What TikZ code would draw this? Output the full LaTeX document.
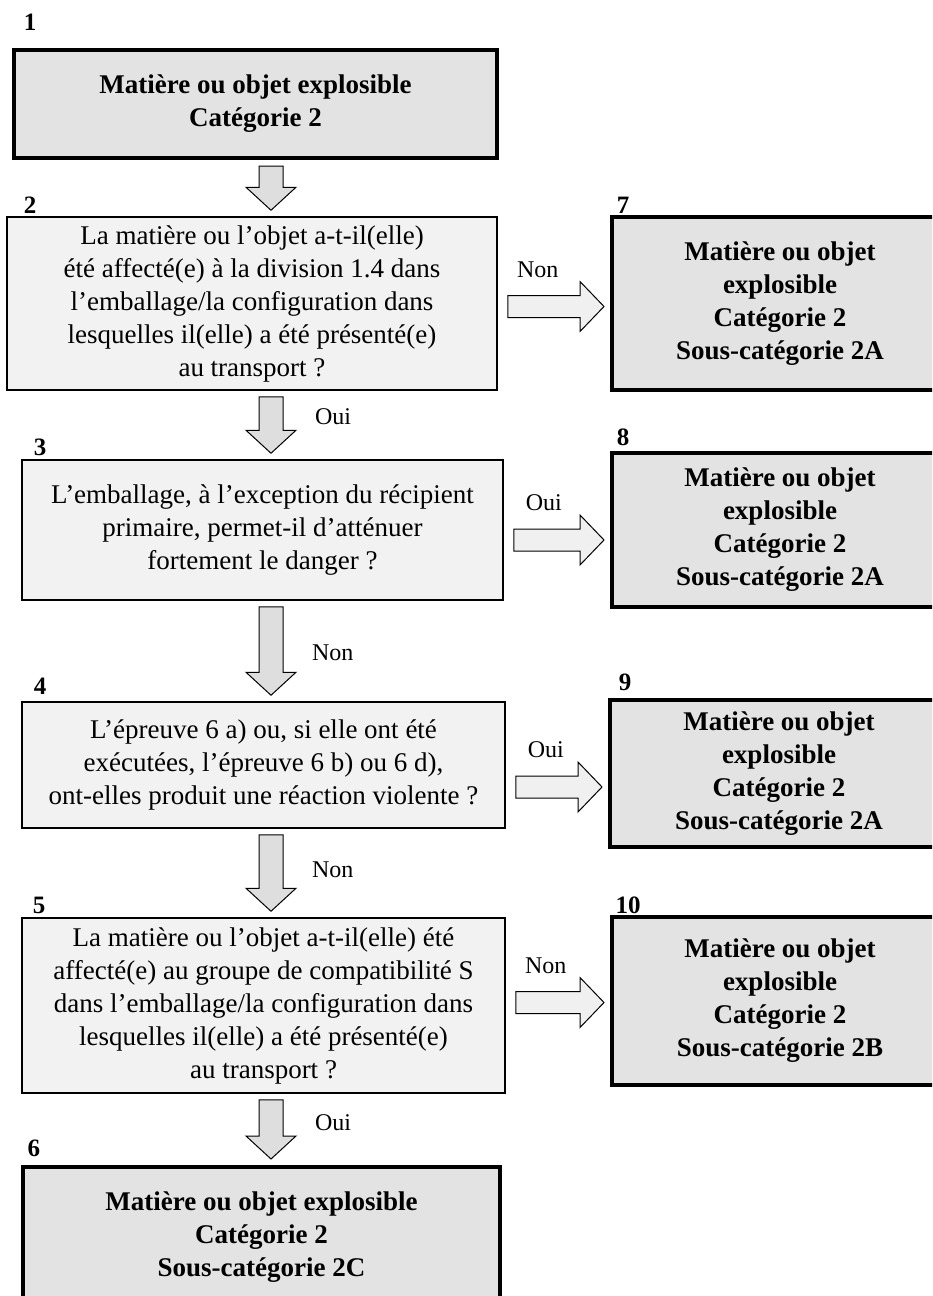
\documentclass[tikz,border=0pt]{standalone}
\usepackage{fontspec}
\setmainfont{Liberation Serif}
\usetikzlibrary{calc}

% block arrow going down between two boxes, on the axis ax
\newcommand{\downblock}[2]{%
  \path[downarr] ($(#1.south -| ax)+(-12,6)$) -- ($(#1.south -| ax)+(12,6)$)
    -- ($(#2.north -| ax)+(12,-29)$) -- ($(#2.north -| ax)+(25,-29)$)
    -- ($(#2.north -| ax)+(0,-6)$) -- ($(#2.north -| ax)+(-25,-29)$)
    -- ($(#2.north -| ax)+(-12,-29)$) -- cycle;
  \coordinate (#1-#2) at ($(#1.south -| ax)!0.5!(#2.north -| ax)$);}

% block arrow going right, #3 = vertical shift from the middle of #1
\newcommand{\rightblock}[3]{%
  \path[rightarr] ($(#1.east)+(10,#3-11)$) -- ($(#2.west |- #1.east)+(-30,#3-11)$)
    -- ($(#2.west |- #1.east)+(-30,#3-25)$) -- ($(#2.west |- #1.east)+(-6,#3)$)
    -- ($(#2.west |- #1.east)+(-30,#3+25)$) -- ($(#2.west |- #1.east)+(-30,#3+11)$)
    -- ($(#1.east)+(10,#3+11)$) -- cycle;
  \coordinate (#1-#2) at ($(#1.east)+(40,#3-37)$);}

\begin{document}
\begin{tikzpicture}[x=0.5pt,y=-0.5pt,
    question/.style={draw, line width=0.75pt, fill=black!5, align=center, inner sep=0pt,
      font=\fontsize{13.5}{16.5}\selectfont},
    result/.style={draw, line width=2pt, fill=black!11, align=center, inner sep=0pt,
      font=\fontsize{13.5}{16.5}\selectfont\bfseries},
    downarr/.style={draw, line width=0.5pt, fill=black!13},
    rightarr/.style={draw, line width=0.5pt, fill=black!6},
    yesno/.style={font=\fontsize{12}{14}\selectfont},
    boxnum/.style={font=\fontsize{12.5}{14}\selectfont\bfseries}]
  \useasboundingbox (0,0) rectangle (932,1296);
  \clip (0,0) rectangle (932,1296);
  \coordinate (ax) at (271,0);

  % left column
  \node[result, minimum width=241.5pt, minimum height=54pt] (r1) at (255.5,104)
    {Matière ou objet explosible\\ Catégorie 2};
  \node[question, minimum width=245pt, minimum height=86.5pt] (q2) at (252,303.5)
    {La matière ou l’objet a-t-il(elle)\\ été affecté(e) à la division 1.4 dans\\
     l’emballage/la configuration dans\\ lesquelles il(elle) a été présenté(e)\\ au transport ?};
  \node[question, minimum width=240.5pt, minimum height=70pt] (q3) at (262.5,530)
    {L’emballage, à l’exception du récipient\\ primaire, permet-il d’atténuer\\ fortement le danger ?};
  \node[question, minimum width=241.5pt, minimum height=63pt] (q4) at (263.5,765)
    {L’épreuve 6 a) ou, si elle ont été\\ exécutées, l’épreuve 6 b) ou 6 d),\\
     ont-elles produit une réaction violente ?};
  \node[question, minimum width=241.5pt, minimum height=87.5pt] (q5) at (263.5,1005.5)
    {La matière ou l’objet a-t-il(elle) été\\ affecté(e) au groupe de compatibilité S\\
     dans l’emballage/la configuration dans\\ lesquelles il(elle) a été présenté(e)\\ au transport ?};
  \node[result, minimum width=238.5pt, minimum height=70pt] (r6) at (261.5,1237)
    {Matière ou objet explosible\\ Catégorie 2\\ Sous-catégorie 2C};

  % right column
  \node[result, minimum width=168pt, minimum height=86.5pt] (r7) at (780,303.5)
    {Matière ou objet\\ explosible\\ Catégorie 2\\ Sous-catégorie 2A};
  \node[result, minimum width=168pt, minimum height=77pt] (r8) at (780,530)
    {Matière ou objet\\ explosible\\ Catégorie 2\\ Sous-catégorie 2A};
  \node[result, minimum width=169pt, minimum height=73.5pt] (r9) at (779,773.5)
    {Matière ou objet\\ explosible\\ Catégorie 2\\ Sous-catégorie 2A};
  \node[result, minimum width=168pt, minimum height=84pt] (r10) at (780,1001)
    {Matière ou objet\\ explosible\\ Catégorie 2\\ Sous-catégorie 2B};

  % box numbers
  \node[boxnum] (n1) at (30,22) {1};
  \node[boxnum] (n2) at (30,205) {2};
  \node[boxnum] (n3) at (40,447) {3};
  \node[boxnum] (n4) at (40,686) {4};
  \node[boxnum] (n5) at (39,905) {5};
  \node[boxnum] (n6) at (34,1148) {6};
  \node[boxnum] (n7) at (623,205) {7};
  \node[boxnum] (n8) at (623,437) {8};
  \node[boxnum] (n9) at (625,682) {9};
  \node[boxnum] (n10) at (628,905) {10};

  % arrows
  \downblock{r1}{q2}
  \downblock{q2}{q3}
  \downblock{q3}{q4}
  \downblock{q4}{q5}
  \downblock{q5}{r6}
  \rightblock{q2}{r7}{3}
  \rightblock{q3}{r8}{10}
  \rightblock{q4}{r9}{22}
  \rightblock{q5}{r10}{-3}

  % answers
  \node[yesno, anchor=west] (a23) at ($(q2-q3)+(37,-8)$) {Oui};
  \node[yesno, anchor=west] (a34) at ($(q3-q4)+(34,2)$) {Non};
  \node[yesno, anchor=west] (a45) at ($(q4-q5)+(34,-3)$) {Non};
  \node[yesno, anchor=west] (a56) at ($(q5-r6)+(37,-7)$) {Oui};
  \node[yesno] (a27) at (q2-r7) {Non};
  \node[yesno] (a38) at (q3-r8) {Oui};
  \node[yesno] (a49) at (q4-r9) {Oui};
  \node[yesno] (a510) at (q5-r10) {Non};
\end{tikzpicture}
\end{document}
